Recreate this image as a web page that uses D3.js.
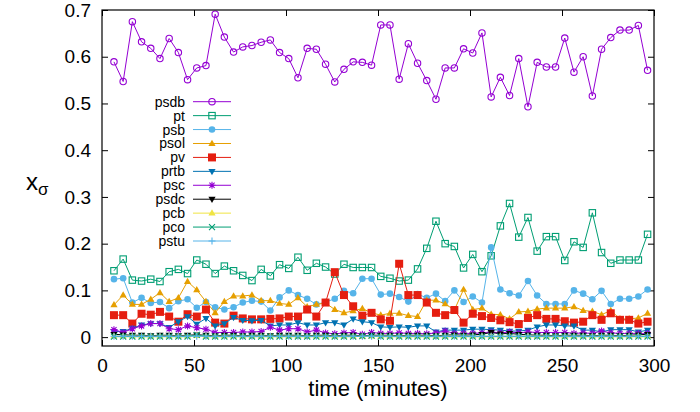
<!DOCTYPE html>
<html><head><meta charset="utf-8">
<script src="https://cdn.jsdelivr.net/npm/d3@7"></script>
<style>body{margin:0;background:#fff}svg{display:block}text{font-family:"Liberation Sans",Arial,sans-serif}</style>
</head><body><svg id="c" width="700" height="412"></svg>
<script>
const times=[6.5,11.5,16.5,21.5,26.5,31.5,36.5,41.5,46.5,51.5,56.5,61.5,66.5,71.5,76.5,81.5,86.5,91.5,96.5,101.5,106.5,111.5,116.5,121.5,126.5,131.5,136.5,141.5,146.5,151.5,156.5,161.5,166.5,171.5,176.5,181.5,186.5,191.5,196.5,201.5,206.5,211.5,216.5,221.5,226.5,231.5,236.5,241.5,246.5,251.5,256.5,261.5,266.5,271.5,276.5,281.5,286.5,291.5,296.5];
const psdb=[0.589,0.547,0.675,0.632,0.618,0.596,0.639,0.609,0.551,0.576,0.581,0.691,0.642,0.610,0.621,0.624,0.631,0.636,0.609,0.596,0.555,0.618,0.616,0.584,0.546,0.573,0.589,0.588,0.582,0.668,0.668,0.552,0.628,0.586,0.549,0.509,0.576,0.576,0.617,0.608,0.651,0.514,0.556,0.517,0.596,0.493,0.588,0.578,0.578,0.640,0.567,0.600,0.516,0.616,0.641,0.657,0.657,0.667,0.571];
const pt=[0.142,0.167,0.122,0.120,0.124,0.119,0.140,0.145,0.136,0.165,0.156,0.136,0.152,0.142,0.132,0.121,0.145,0.131,0.155,0.147,0.171,0.143,0.158,0.150,0.135,0.156,0.149,0.149,0.149,0.130,0.126,0.120,0.122,0.146,0.190,0.248,0.200,0.194,0.148,0.177,0.140,0.174,0.238,0.286,0.214,0.256,0.184,0.215,0.215,0.164,0.204,0.192,0.266,0.181,0.158,0.165,0.165,0.165,0.220];
const psb=[0.124,0.126,0.074,0.084,0.073,0.075,0.062,0.077,0.081,0.063,0.075,0.064,0.059,0.064,0.074,0.078,0.076,0.057,0.085,0.100,0.090,0.082,0.070,0.075,0.082,0.099,0.094,0.125,0.125,0.091,0.093,0.086,0.076,0.092,0.084,0.093,0.077,0.100,0.075,0.087,0.074,0.192,0.102,0.094,0.089,0.120,0.089,0.071,0.071,0.071,0.100,0.093,0.081,0.099,0.071,0.082,0.082,0.087,0.102];
const psol=[0.069,0.090,0.070,0.070,0.081,0.095,0.076,0.084,0.119,0.101,0.076,0.052,0.076,0.088,0.088,0.090,0.078,0.078,0.072,0.070,0.084,0.065,0.070,0.073,0.059,0.052,0.056,0.061,0.052,0.047,0.051,0.051,0.046,0.044,0.079,0.079,0.071,0.058,0.102,0.059,0.062,0.049,0.048,0.039,0.054,0.055,0.060,0.062,0.062,0.062,0.065,0.057,0.055,0.048,0.057,0.039,0.039,0.041,0.051];
const pv=[0.047,0.047,0.029,0.050,0.048,0.054,0.044,0.033,0.049,0.044,0.059,0.031,0.029,0.046,0.040,0.038,0.038,0.039,0.040,0.044,0.044,0.059,0.044,0.074,0.139,0.090,0.066,0.046,0.052,0.038,0.035,0.157,0.090,0.090,0.074,0.052,0.047,0.058,0.031,0.050,0.045,0.041,0.036,0.032,0.028,0.041,0.047,0.039,0.039,0.034,0.031,0.033,0.047,0.037,0.051,0.037,0.037,0.029,0.033];
const prtb=[0.012,0.012,0.019,0.026,0.029,0.029,0.021,0.033,0.044,0.028,0.040,0.024,0.029,0.042,0.036,0.035,0.036,0.024,0.026,0.026,0.031,0.026,0.026,0.031,0.031,0.026,0.039,0.033,0.031,0.022,0.021,0.022,0.021,0.024,0.024,0.011,0.015,0.015,0.015,0.017,0.017,0.016,0.015,0.013,0.013,0.015,0.022,0.026,0.026,0.024,0.024,0.015,0.015,0.011,0.016,0.016,0.016,0.011,0.015];
const psc=[0.016,0.010,0.018,0.024,0.029,0.029,0.018,0.016,0.024,0.020,0.017,0.010,0.010,0.010,0.011,0.011,0.012,0.021,0.015,0.018,0.018,0.011,0.015,0.009,0.007,0.009,0.010,0.006,0.010,0.008,0.008,0.009,0.008,0.008,0.007,0.009,0.013,0.008,0.008,0.008,0.009,0.011,0.009,0.011,0.009,0.011,0.010,0.010,0.010,0.010,0.008,0.009,0.008,0.013,0.009,0.008,0.008,0.008,0.008];
const psdc=[0.006,0.005,0.004,0.004,0.003,0.004,0.004,0.003,0.004,0.005,0.004,0.003,0.004,0.004,0.003,0.004,0.004,0.003,0.004,0.004,0.004,0.003,0.004,0.004,0.003,0.004,0.004,0.003,0.004,0.004,0.004,0.003,0.004,0.004,0.004,0.003,0.004,0.005,0.004,0.005,0.006,0.010,0.007,0.008,0.006,0.005,0.004,0.004,0.003,0.004,0.004,0.004,0.003,0.004,0.004,0.003,0.004,0.005,0.006];
const pcb=[0.002,0.002,0.002,0.002,0.002,0.002,0.002,0.002,0.002,0.003,0.002,0.002,0.002,0.002,0.002,0.002,0.002,0.002,0.002,0.002,0.002,0.002,0.002,0.002,0.002,0.002,0.002,0.002,0.002,0.002,0.002,0.002,0.002,0.002,0.002,0.002,0.002,0.002,0.002,0.002,0.002,0.002,0.002,0.002,0.002,0.002,0.002,0.002,0.002,0.002,0.002,0.002,0.002,0.002,0.002,0.002,0.002,0.002,0.002];
const pco=[0.001,0.001,0.001,0.001,0.001,0.001,0.001,0.001,0.001,0.005,0.001,0.001,0.001,0.001,0.001,0.001,0.001,0.001,0.001,0.001,0.001,0.001,0.001,0.001,0.001,0.001,0.001,0.002,0.003,0.001,0.001,0.001,0.001,0.001,0.001,0.001,0.001,0.001,0.001,0.001,0.001,0.001,0.001,0.001,0.001,0.001,0.001,0.001,0.001,0.001,0.001,0.001,0.001,0.001,0.001,0.001,0.001,0.001,0.001];
const pstu=[0.002,0.002,0.002,0.002,0.002,0.002,0.002,0.002,0.002,0.002,0.002,0.002,0.002,0.002,0.002,0.002,0.002,0.002,0.002,0.002,0.002,0.002,0.002,0.002,0.002,0.002,0.002,0.002,0.002,0.002,0.002,0.002,0.002,0.002,0.002,0.002,0.002,0.002,0.002,0.002,0.002,0.002,0.002,0.002,0.002,0.002,0.002,0.002,0.002,0.002,0.002,0.002,0.002,0.002,0.002,0.002,0.002,0.002,0.002];
const seriesNames=["psdb","pt","psb","psol","pv","prtb","psc","psdc","pcb","pco","pstu"];
const seriesValues=[psdb,pt,psb,psol,pv,prtb,psc,psdc,pcb,pco,pstu];
const seriesColors=["#9400d3","#009e73","#56b4e9","#e69f00","#e51e10","#0072b2","#9400d3","#000000","#f0e442","#009e73","#56b4e9"];
const seriesMarkers=["ocircle","osquare","fcircle","ftri","fsquare","fitri","star","fitri","ftri","cross","plus"];
const xTicks=[0,50,100,150,200,250,300];
const yTicks=[0,0.1,0.2,0.3,0.4,0.5,0.6,0.7];

const svg=d3.select("#c");
const L=102,R=654,T=10,B=346;
const x=d3.scaleLinear().domain([0,300]).range([L,R]);
const y=d3.scaleLinear().domain([-0.019,0.7]).range([B,T]);

function axisStyle(g){g.select(".domain").remove();g.selectAll("line").attr("stroke","#000");g.selectAll("text").attr("fill","#000").style("font-size","19px").style("font-family","'Liberation Sans',Arial,sans-serif");}
svg.append("g").attr("transform",`translate(0,${B})`).call(d3.axisBottom(x).tickValues(xTicks).tickSize(-6).tickPadding(13).tickFormat(d3.format("d"))).call(axisStyle);
svg.append("g").attr("transform",`translate(0,${T})`).call(d3.axisTop(x).tickValues(xTicks).tickSize(-6).tickFormat("")).call(axisStyle);
svg.append("g").attr("transform",`translate(${L},0)`).call(d3.axisLeft(y).tickValues(yTicks).tickSize(-6).tickPadding(11).tickFormat(d=>d===0?"0":d.toFixed(1))).call(axisStyle);
svg.append("g").attr("transform",`translate(${R},0)`).call(d3.axisRight(y).tickValues(yTicks).tickSize(-6).tickFormat("")).call(axisStyle);

function marker(g,type,color){
  const s=3.2;
  if(type==="ocircle") g.append("circle").attr("r",s).attr("fill","none").attr("stroke",color).attr("stroke-width",1.1);
  else if(type==="fcircle") g.append("circle").attr("r",3.3).attr("fill",color);
  else if(type==="osquare") g.append("rect").attr("x",-s).attr("y",-s).attr("width",2*s).attr("height",2*s).attr("fill","none").attr("stroke",color).attr("stroke-width",1.1);
  else if(type==="fsquare") g.append("rect").attr("x",-4).attr("y",-4).attr("width",8).attr("height",8).attr("fill",color);
  else if(type==="ftri") g.append("path").attr("d","M0,-3.8L3.6,2.4L-3.6,2.4Z").attr("fill",color);
  else if(type==="fitri") g.append("path").attr("d","M0,3.8L3.6,-2.4L-3.6,-2.4Z").attr("fill",color);
  else if(type==="cross") g.append("path").attr("d","M-3,-3L3,3M-3,3L3,-3").attr("stroke",color).attr("stroke-width",1.1);
  else if(type==="plus") g.append("path").attr("d","M-3.5,0L3.5,0M0,-3.5L0,3.5").attr("stroke",color).attr("stroke-width",1.1);
  else if(type==="star") g.append("path").attr("d","M-3.5,0L3.5,0M0,-3.5L0,3.5M-2.6,-2.6L2.6,2.6M-2.6,2.6L2.6,-2.6").attr("stroke",color).attr("stroke-width",1.1);
}

const line=d3.line().x(d=>x(d[0])).y(d=>y(d[1]));
const plot=svg.append("g");
seriesValues.forEach((vals,i)=>{
  const pts=times.map((t,j)=>[t,vals[j]]);
  const g=plot.append("g");
  g.append("path").attr("d",line(pts)).attr("fill","none").attr("stroke",seriesColors[i]).attr("stroke-width",1);
  pts.forEach(p=>{const m=g.append("g").attr("transform",`translate(${x(p[0])},${y(p[1])})`);marker(m,seriesMarkers[i],seriesColors[i]);});
});

// legend
const leg=svg.append("g");
seriesNames.forEach((n,i)=>{
  const yy=101.7+i*13.93;
  leg.append("text").attr("x",185).attr("y",yy+5).attr("text-anchor","end").style("font-size","14px").attr("fill","#000").text(n);
  leg.append("line").attr("x1",193).attr("x2",231).attr("y1",yy).attr("y2",yy).attr("stroke",seriesColors[i]).attr("stroke-width",1);
  const m=leg.append("g").attr("transform",`translate(212,${yy})`);marker(m,seriesMarkers[i],seriesColors[i]);
});

// frame
svg.append("rect").attr("x",L).attr("y",T).attr("width",R-L).attr("height",B-T).attr("fill","none").attr("stroke","#000").attr("stroke-width",1.2);

// axis titles
svg.append("text").attr("x",378).attr("y",396).attr("text-anchor","middle").style("font-size","22px").attr("fill","#000").text("time (minutes)");
const yl=svg.append("text").attr("x",26).attr("y",190).style("font-size","24px").attr("fill","#000");
yl.append("tspan").text("x");
yl.append("tspan").attr("dy",5).style("font-size","17px").text("σ");
</script></body></html>
